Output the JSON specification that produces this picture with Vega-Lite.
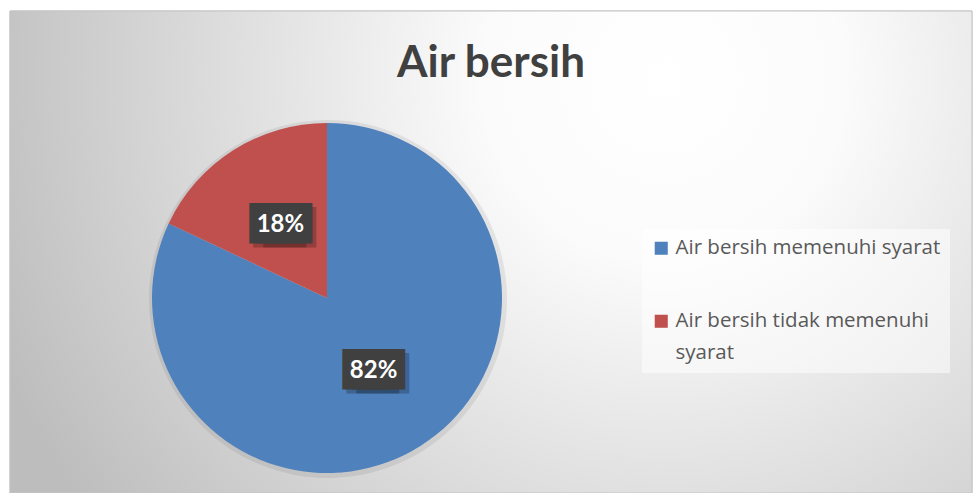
{
  "$schema": "https://vega.github.io/schema/vega-lite/v6.json",
  "width": 962,
  "height": 482,
  "padding": {"left": 10, "top": 11, "right": 1, "bottom": 0},
  "autosize": {"type": "none"},
  "background": "#ffffff",
  "title": {
    "text": "Air bersih",
    "anchor": "middle",
    "frame": "group",
    "offset": -75,
    "font": "Lato",
    "fontSize": 44,
    "fontWeight": "bold",
    "color": "#404040"
  },
  "config": {
    "view": {"stroke": null},
    "style": {"guide-label": {"lineHeight": 32}}
  },
  "data": {
    "values": [
      {"kategori": "Air bersih memenuhi syarat", "nilai": 82, "label": "82%"},
      {"kategori": "Air bersih tidak memenuhi syarat", "nilai": 18, "label": "18%"}
    ]
  },
  "layer": [
    {
      "mark": {
        "type": "rect",
        "stroke": "#c4c4c4",
        "strokeWidth": 1,
        "color": {
          "gradient": "radial",
          "x1": 0.68, "y1": 0.32, "r1": 0,
          "x2": 0.68, "y2": 0.32, "r2": 0.75,
          "stops": [
            {"offset": 0, "color": "#ffffff"},
            {"offset": 0.25, "color": "#fbfbfb"},
            {"offset": 1, "color": "#bdbdbd"}
          ]
        }
      },
      "encoding": {
        "x": {"value": 0},
        "x2": {"value": "width"},
        "y": {"value": 0},
        "y2": {"value": "height"}
      }
    },
    {
      "mark": {"type": "arc", "outerRadius": 179, "xOffset": -163, "yOffset": 47, "opacity": 0.07},
      "encoding": {
        "theta": {"field": "nilai", "type": "quantitative", "stack": true},
        "order": {"field": "nilai", "type": "quantitative", "sort": "descending"},
        "fill": {"value": "#000000"}
      }
    },
    {
      "mark": {"type": "arc", "outerRadius": 175, "xOffset": -164, "yOffset": 46},
      "encoding": {
        "theta": {"field": "nilai", "type": "quantitative", "stack": true},
        "order": {"field": "nilai", "type": "quantitative", "sort": "descending"},
        "color": {
          "field": "kategori",
          "type": "nominal",
          "scale": {
            "domain": ["Air bersih memenuhi syarat", "Air bersih tidak memenuhi syarat"],
            "range": ["#4f81bd", "#c0504d"]
          },
          "legend": {
            "title": null,
            "orient": "none",
            "legendX": 632,
            "legendY": 218,
            "fillColor": "rgba(255,255,255,0.5)",
            "padding": 9,
            "symbolType": "square",
            "symbolSize": 170,
            "symbolStrokeWidth": 0,
            "symbolOpacity": 1,
            "labelFont": "Open Sans",
            "labelFontSize": 20.5,
            "labelColor": "#595959",
            "labelLimit": 400,
            "rowPadding": 52,
            "labelExpr": "datum.label == 'Air bersih tidak memenuhi syarat' ? ['Air bersih tidak memenuhi', 'syarat'] : datum.label"
          }
        }
      }
    },
    {
      "mark": {"type": "text", "radius": 87, "xOffset": -160, "yOffset": 50, "text": "██", "font": "DejaVu Sans", "fontSize": 34, "baseline": "middle", "align": "center", "dx": -5, "opacity": 0.22},
      "encoding": {
        "theta": {"field": "nilai", "type": "quantitative", "stack": true},
        "order": {"field": "nilai", "type": "quantitative", "sort": "descending"},
        "fill": {"value": "#000000"}
      }
    },
    {
      "mark": {"type": "text", "radius": 87, "xOffset": -160, "yOffset": 50, "text": "██", "font": "DejaVu Sans", "fontSize": 34, "baseline": "middle", "align": "center", "dx": 5, "opacity": 0.22},
      "encoding": {
        "theta": {"field": "nilai", "type": "quantitative", "stack": true},
        "order": {"field": "nilai", "type": "quantitative", "sort": "descending"},
        "fill": {"value": "#000000"}
      }
    },
    {
      "mark": {"type": "text", "radius": 87, "xOffset": -164, "yOffset": 46, "text": "██", "font": "DejaVu Sans", "fontSize": 34, "baseline": "middle", "align": "center", "dx": -5},
      "encoding": {
        "theta": {"field": "nilai", "type": "quantitative", "stack": true},
        "order": {"field": "nilai", "type": "quantitative", "sort": "descending"},
        "fill": {"value": "#404040"}
      }
    },
    {
      "mark": {"type": "text", "radius": 87, "xOffset": -164, "yOffset": 46, "text": "██", "font": "DejaVu Sans", "fontSize": 34, "baseline": "middle", "align": "center", "dx": 5},
      "encoding": {
        "theta": {"field": "nilai", "type": "quantitative", "stack": true},
        "order": {"field": "nilai", "type": "quantitative", "sort": "descending"},
        "fill": {"value": "#404040"}
      }
    },
    {
      "mark": {"type": "text", "radius": 87, "xOffset": -164, "yOffset": 46, "font": "Lato", "fontSize": 24, "fontWeight": "bold", "baseline": "middle", "align": "center"},
      "encoding": {
        "theta": {"field": "nilai", "type": "quantitative", "stack": true},
        "order": {"field": "nilai", "type": "quantitative", "sort": "descending"},
        "text": {"field": "label", "type": "nominal"},
        "fill": {"value": "#ffffff"}
      }
    }
  ]
}
